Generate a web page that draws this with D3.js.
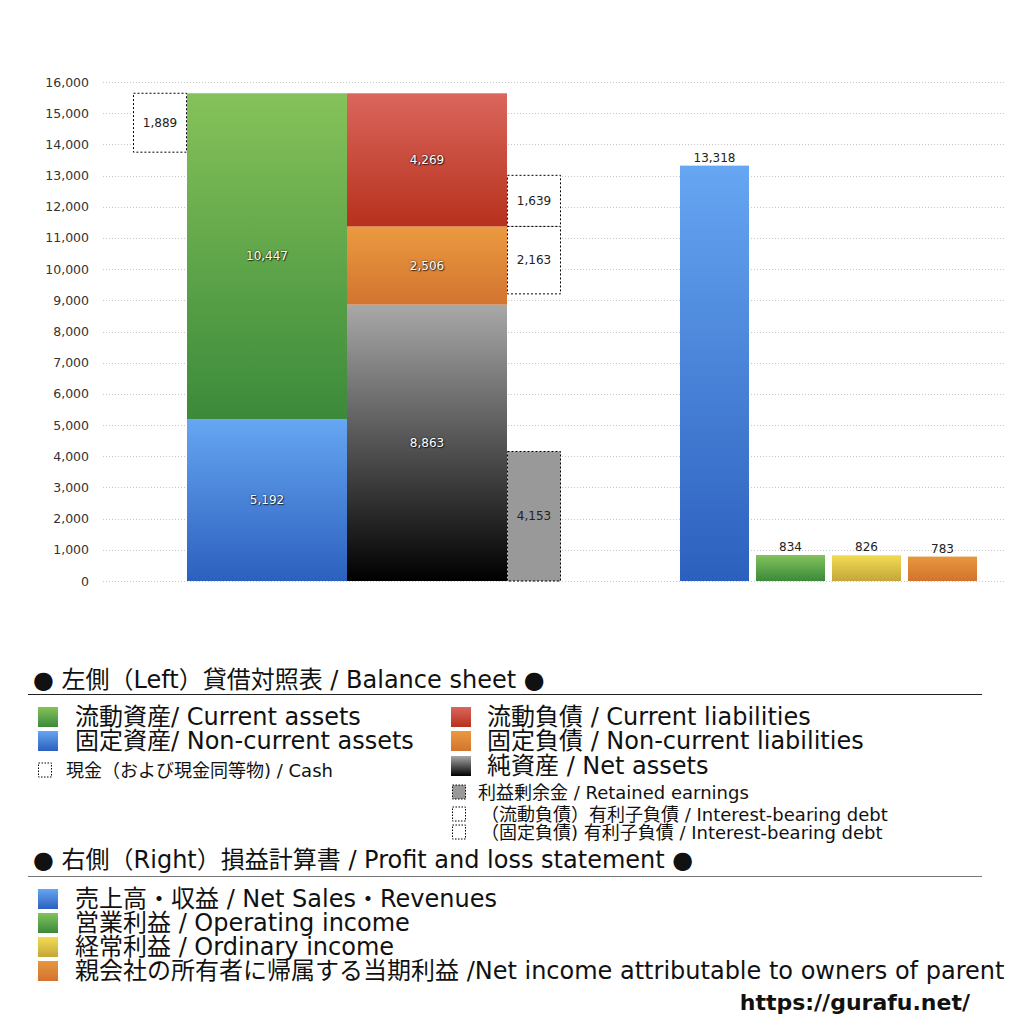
<!DOCTYPE html>
<html>
<head>
<meta charset="utf-8">
<script src="https://cdn.jsdelivr.net/npm/d3@7"></script>
<style>
  body { margin: 0; background: #fff; }
  svg { display: block; font-family: "DejaVu Sans", "Noto Sans CJK JP", sans-serif; }
  .inbar { fill: #fff; text-shadow: 0 0 2px rgba(0,0,0,0.8), 1px 1px 1px rgba(0,0,0,0.6); }
</style>
</head>
<body>
<svg width="1024" height="1024"></svg>
<script>
// balance sheet (left)
const assetKeys = ["nonCurrentAssets", "currentAssets"];
const assetValues = [5192, 10447];
const liabKeys = ["netAssets", "nonCurrentLiab", "currentLiab"];
const liabValues = [8863, 2506, 4269];
const cashValue = 1889;
const retainedValue = 4153;
const debtCurrent = 1639;
const debtNonCurrent = 2163;

// profit and loss (right)
const plKeys = ["sales", "operating", "ordinary", "net"];
const plValues = [13318, 834, 826, 783];

const yMax = 16000;

const grads = {
  currentAssets: ["#86c25a", "#3b8a3a"],
  nonCurrentAssets: ["#66a6f2", "#2c60be"],
  currentLiab: ["#da665c", "#b7311c"],
  nonCurrentLiab: ["#eb9a40", "#d27430"],
  netAssets: ["#a8a8a8", "#000000"],
  sales: ["#66a6f2", "#2c60be"],
  operating: ["#84c25c", "#3a8a3a"],
  ordinary: ["#f2dc52", "#c4a63a"],
  net: ["#e6983e", "#d4722e"]
};

const svg = d3.select("svg");
const defs = svg.append("defs");
Object.entries(grads).forEach(([k, c]) => {
  const g = defs.append("linearGradient").attr("id", "g-" + k)
    .attr("x1", 0).attr("y1", 0).attr("x2", 0).attr("y2", 1);
  g.append("stop").attr("offset", "0%").attr("stop-color", c[0]);
  g.append("stop").attr("offset", "100%").attr("stop-color", c[1]);
});

const y = d3.scaleLinear().domain([0, yMax]).range([581, 82]);
const fmt = d3.format(",");
const numFont = "'DejaVu Sans', sans-serif";

// grid + y axis
const yAxis = d3.axisLeft(y).ticks(16).tickFormat(fmt).tickSize(0).tickPadding(0);
const ag = svg.append("g").attr("transform", "translate(89,0)").call(yAxis);
ag.select(".domain").remove();
ag.selectAll("text").attr("font-size", 12.5).attr("fill", "#333").attr("font-family", numFont);
svg.append("g").selectAll("line").data(y.ticks(16)).join("line")
  .attr("x1", 103).attr("x2", 1004)
  .attr("y1", d => Math.round(y(d)) + 0.5).attr("y2", d => Math.round(y(d)) + 0.5)
  .attr("stroke", "#c8c8c8").attr("stroke-dasharray", "1,2");

// left columns
const xBS = d3.scaleBand().domain(["assets", "liab"]).range([187, 507]).padding(0);
const sideW = 54;

function stackCol(keys, vals) {
  let acc = 0;
  return keys.map((k, i) => { const s = { key: k, v: vals[i], y0: acc, y1: acc + vals[i] }; acc += vals[i]; return s; });
}
const assetStack = stackCol(assetKeys, assetValues);
const liabStack = stackCol(liabKeys, liabValues);

[["assets", assetStack], ["liab", liabStack]].forEach(([col, stack]) => {
  const g = svg.append("g");
  g.selectAll("rect").data(stack).join("rect")
    .attr("x", xBS(col)).attr("width", xBS.bandwidth())
    .attr("y", d => y(d.y1)).attr("height", d => y(d.y0) - y(d.y1))
    .attr("fill", d => `url(#g-${d.key})`);
  g.selectAll("text").data(stack).join("text").attr("class", "inbar")
    .attr("x", xBS(col) + xBS.bandwidth() / 2)
    .attr("y", d => (y(d.y0) + y(d.y1)) / 2 + 4)
    .attr("text-anchor", "middle").attr("font-size", 12)
    .attr("font-family", numFont)
    .text(d => fmt(d.v));
});

// side boxes
const totalAssets = d3.sum(assetValues);
const ncTop = liabValues[0] + liabValues[1];
const sideBoxes = [
  { x: xBS("assets") - sideW, y0: totalAssets - cashValue, y1: totalAssets, v: cashValue, fill: "#fff" },
  { x: xBS("liab") + xBS.bandwidth(), y0: ncTop, y1: ncTop + debtCurrent, v: debtCurrent, fill: "#fff" },
  { x: xBS("liab") + xBS.bandwidth(), y0: ncTop - debtNonCurrent, y1: ncTop, v: debtNonCurrent, fill: "#fff" },
  { x: xBS("liab") + xBS.bandwidth(), y0: 0, y1: retainedValue, v: retainedValue, fill: "#999" }
];
const sb = svg.append("g");
sb.selectAll("rect").data(sideBoxes).join("rect")
  .attr("x", d => d.x + 0.5).attr("width", sideW - 1)
  .attr("y", d => y(d.y1)).attr("height", d => y(d.y0) - y(d.y1))
  .attr("fill", d => d.fill)
  .attr("stroke", "#000").attr("stroke-width", 1).attr("stroke-dasharray", "2,2");
sb.selectAll("text").data(sideBoxes).join("text")
  .attr("x", d => d.x + sideW / 2)
  .attr("y", d => (y(d.y0) + y(d.y1)) / 2 + 4)
  .attr("text-anchor", "middle").attr("font-size", 12).attr("fill", "#222")
  .attr("font-family", numFont)
  .text(d => fmt(d.v));

// right columns
const xPL = d3.scaleBand().domain(plKeys).range([680, 977]).paddingInner(7 / 76).paddingOuter(0);
const pl = svg.append("g");
pl.selectAll("rect").data(plKeys).join("rect")
  .attr("x", d => xPL(d)).attr("width", xPL.bandwidth())
  .attr("y", (d, i) => y(plValues[i])).attr("height", (d, i) => y(0) - y(plValues[i]))
  .attr("fill", d => `url(#g-${d})`);
pl.selectAll("text").data(plKeys).join("text")
  .attr("x", d => xPL(d) + xPL.bandwidth() / 2)
  .attr("y", (d, i) => y(plValues[i]) - 4)
  .attr("text-anchor", "middle").attr("font-size", 12).attr("fill", "#222")
  .attr("font-family", numFont)
  .text((d, i) => fmt(plValues[i]));

// legend
const lg = svg.append("g").attr("fill", "#111");
function sq(x, yc, s, key, dashed, fill) {
  const r = lg.append("rect").attr("x", x).attr("y", yc - s / 2).attr("width", s).attr("height", s);
  if (dashed) r.attr("fill", fill || "#fff").attr("stroke", "#000").attr("stroke-dasharray", "1.5,1.5").attr("x", x + 0.5).attr("width", s - 1);
  else r.attr("fill", `url(#g-${key})`);
}
function txt(x, yc, size, t) {
  lg.append("text").attr("x", x).attr("y", yc).attr("dominant-baseline", "central")
    .attr("font-size", size).text(t);
}

const big = 24, small = 18;
txt(33, 680, big, "● 左側（Left）貸借対照表 / Balance sheet ●");
lg.append("line").attr("x1", 28).attr("x2", 982).attr("y1", 694.5).attr("y2", 694.5).attr("stroke", "#222");

sq(38, 717, 20, "currentAssets"); txt(75, 717, big, "流動資産/ Current assets");
sq(38, 741, 20, "nonCurrentAssets"); txt(75, 741, big, "固定資産/ Non-current assets");
sq(38, 770, 14, null, true); txt(66, 770, small, "現金（および現金同等物) / Cash");

sq(451, 717, 20, "currentLiab"); txt(487, 717, big, "流動負債 /  Current liabilities");
sq(451, 741, 20, "nonCurrentLiab"); txt(487, 741, big, "固定負債 / Non-current liabilities");
sq(451, 766, 20, "netAssets"); txt(487, 766, big, "純資産 / Net assets");
sq(452, 792, 14, null, true, "#999"); txt(478, 792, small, "利益剰余金 / Retained earnings");
sq(452, 814, 14, null, true); txt(481, 814, small, "（流動負債）有利子負債 / Interest-bearing debt");
sq(452, 832, 14, null, true); txt(481, 832, small, "（固定負債) 有利子負債 / Interest-bearing debt");

txt(33, 860, big, "● 右側（Right）損益計算書 / Profit and loss statement ●");
lg.append("line").attr("x1", 28).attr("x2", 982).attr("y1", 876.5).attr("y2", 876.5).attr("stroke", "#777");

sq(38, 899, 20, "sales"); txt(75, 899, big, "売上高・収益 / Net Sales・Revenues");
sq(38, 923, 20, "operating"); txt(75, 923, big, "営業利益 / Operating income");
sq(38, 947, 20, "ordinary"); txt(75, 947, big, "経常利益 / Ordinary income");
sq(38, 971, 20, "net"); txt(75, 971, big, "親会社の所有者に帰属する当期利益 /Net income attributable to owners of parent");

lg.append("text").attr("x", 970).attr("y", 1002).attr("dominant-baseline", "central")
  .attr("text-anchor", "end").attr("font-size", 22).attr("font-weight", "bold")
  .attr("font-family", "'DejaVu Sans', sans-serif").text("https://gurafu.net/");
</script>
</body>
</html>
